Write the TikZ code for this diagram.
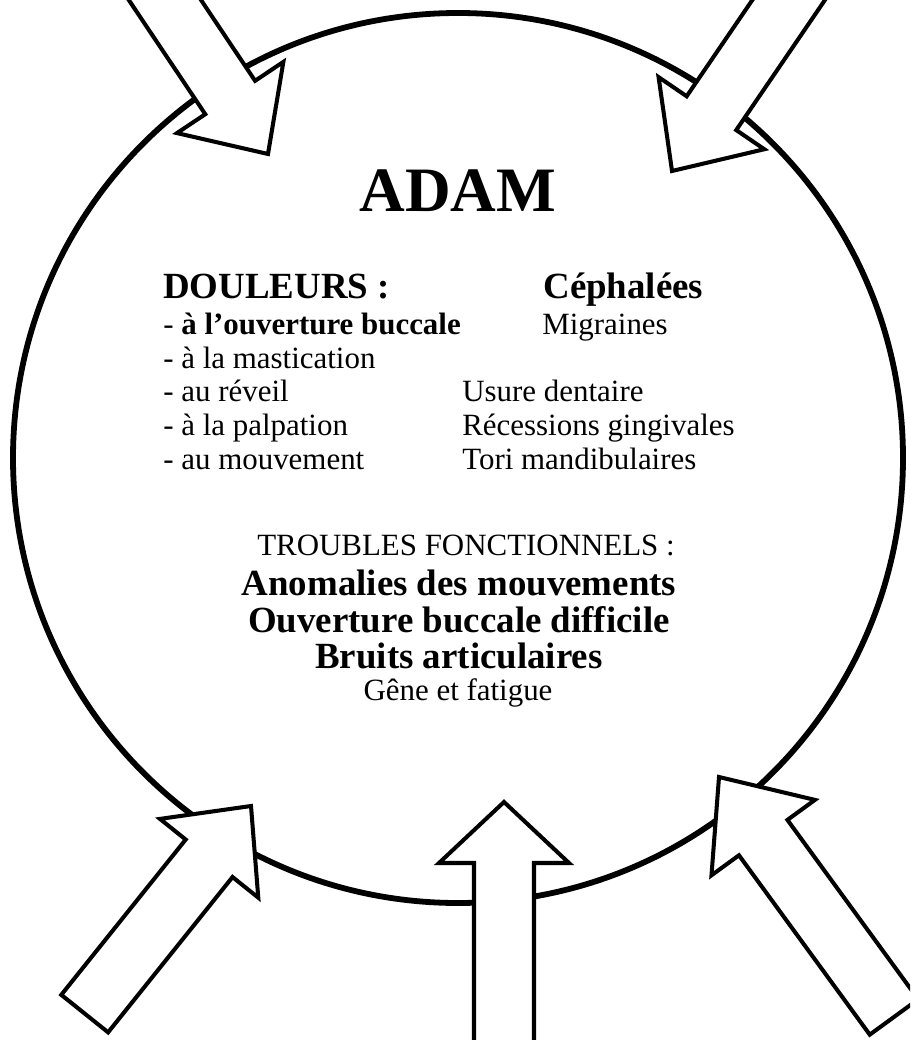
\documentclass[tikz,border=0pt]{standalone}
\usepackage{fontspec}
\setmainfont{Liberation Serif}[BoldFont={Liberation Serif Bold}, ItalicFont={Liberation Serif Italic}, BoldItalicFont={Liberation Serif Bold Italic}]
\tikzset{
  ring/.style={line width=3.3pt},
  blockarrow/.style={draw, fill=white, line width=2.3pt, line join=miter, miter limit=10},
  titletext/.style={inner sep=0pt, anchor=base, font=\fontsize{36}{40}\selectfont\bfseries},
  headtext/.style={inner sep=0pt, anchor=base west, font=\fontsize{21}{24}\selectfont\bfseries},
  bodytext/.style={inner sep=0pt, anchor=base west, font=\fontsize{17.6}{20}\selectfont},
  centerbold/.style={inner sep=0pt, anchor=base, font=\fontsize{21}{24}\selectfont\bfseries},
  centerbody/.style={inner sep=0pt, anchor=base, font=\fontsize{17.6}{20}\selectfont},
}
% #1 tip, #2 angle, #3 total length, #4 head length, #5 head half width
\newcommand{\blockarr}[5]{%
  \begin{scope}[shift={#1}, rotate=#2]
    \draw[blockarrow] (0,0) -- (-#4,#5) -- (-#4,30) -- (-#3,30) -- (-#3,-30) -- (-#4,-30) -- (-#4,-#5) -- cycle;
  \end{scope}}
\begin{document}
\begin{tikzpicture}[x=0.02cm, y=-0.02cm]
  \useasboundingbox (0,0) rectangle (910,1040);
  \clip (0,0) rectangle (910,1040);
  % circle
  \draw[ring] (458,458) circle[radius=445];
  % arrows
  \blockarr{(268,154)}{-56.2}{260}{68}{64}
  \blockarr{(672,171)}{-124.3}{260}{70}{64}
  \blockarr{(251,806)}{51.3}{266}{67}{63}
  \blockarr{(504,802)}{90}{280}{61}{65}
  \blockarr{(719,777)}{126.1}{297}{75}{64}
  % texts
  \node[titletext] (adam) at (458,212) {ADAM};
  \node[headtext] (doul) at (163,298) {DOULEURS :};
  \node[headtext] (ceph) at (543,298) {Céphalées};
  \node[bodytext] (l1) at (163,334) {- \textbf{à l’ouverture buccale}};
  \node[bodytext] (migr) at (542,334) {Migraines};
  \node[bodytext] (l2) at (163,368) {- à la mastication};
  \node[bodytext] (l3) at (163,401) {- au réveil};
  \node[bodytext] (usure) at (462,401) {Usure dentaire};
  \node[bodytext] (l4) at (163,435) {- à la palpation};
  \node[bodytext] (rec) at (462,435) {Récessions gingivales};
  \node[bodytext] (l5) at (163,469) {- au mouvement};
  \node[bodytext] (tori) at (462,469) {Tori mandibulaires};
  \node[centerbody] (trb) at (466,555) {TROUBLES FONCTIONNELS :};
  \node[centerbold] (anom) at (459,595) {Anomalies des mouvements};
  \node[centerbold] (ouv) at (459,632) {Ouverture buccale difficile};
  \node[centerbold] (bruit) at (459,668) {Bruits articulaires};
  \node[centerbody] (gene) at (458,700) {Gêne et fatigue};
\end{tikzpicture}
\end{document}
